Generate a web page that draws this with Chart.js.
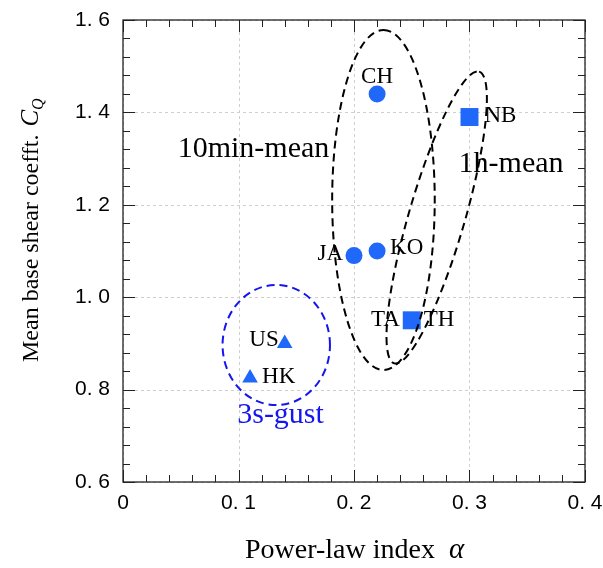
<!DOCTYPE html>
<html>
<head>
<meta charset="utf-8">
<script src="https://cdn.jsdelivr.net/npm/chart.js@4/dist/chart.umd.min.js"></script>
<style>
  html, body { margin: 0; padding: 0; background: #fff; }
</style>
</head>
<body>
<canvas id="chart" width="603" height="568"></canvas>
<script>
// data
const circleNames = ['CH', 'JA', 'KO']
const circleX = [0.22, 0.20, 0.22]
const circleY = [1.44, 1.09, 1.10]

const squareNames = ['NB', 'TA/TH']
const squareX = [0.30, 0.25]
const squareY = [1.39, 0.95]

const triangleNames = ['US', 'HK']
const triangleX = [0.14, 0.11]
const triangleY = [0.90, 0.825]

const xTicks = [0, 0.1, 0.2, 0.3, 0.4]
const xTickLabels = ['0', '0. 1', '0. 2', '0. 3', '0. 4']
const yTicks = [0.6, 0.8, 1.0, 1.2, 1.4, 1.6]
const yTickLabels = ['0. 6', '0. 8', '1. 0', '1. 2', '1. 4', '1. 6']

// group outlines: centre and the two half-axis vectors, in data units
const groupNames = ['3s-gust', '10min-mean', '1h-mean']
const groupCx = [0.1327, 0.2255, 0.2716]
const groupCy = [0.8965, 1.2104, 1.1725]
const groupAx = [0.0465, 0, 0.0367]
const groupAy = [0, 0.368, 0.3158]
const groupBx = [0, 0.0444, 0.0233]
const groupBy = [0.130, 0, -0.0169]
const groupTextX = [0.1364, 0.113, 0.336]
const groupTextY = [0.7277, 1.3035, 1.2716]

const blue = 'rgb(32,104,250)'
const serif = '"Liberation Serif", "Times New Roman", serif'
const tickFont = { family: '"Liberation Sans", Arial, sans-serif', size: 21 }

const toPoints = (xs, ys) => xs.map((x, i) => ({ x: x, y: ys[i] }))

// label placement next to each marker (pixels)
const pointLabels = [
  { text: 'CH', x: circleX[0], y: circleY[0], align: 'center', dx: 0, dy: -11 },
  { text: 'JA', x: circleX[1], y: circleY[1], align: 'right', dx: -11, dy: 4 },
  { text: 'KO', x: circleX[2], y: circleY[2], align: 'left', dx: 13, dy: 3 },
  { text: 'NB', x: squareX[0], y: squareY[0], align: 'left', dx: 15, dy: 5 },
  { text: 'TA', x: squareX[1], y: squareY[1], align: 'right', dx: -12, dy: 6 },
  { text: 'TH', x: squareX[1], y: squareY[1], align: 'left', dx: 12, dy: 6 },
  { text: 'US', x: triangleX[0], y: triangleY[0], align: 'right', dx: -6, dy: 3 },
  { text: 'HK', x: triangleX[1], y: triangleY[1], align: 'left', dx: 12, dy: 5 }
]

const gridPlugin = {
  id: 'grid',
  beforeDatasetsDraw(chart) {
    const { ctx, chartArea: a, scales: { x, y } } = chart
    ctx.save()
    ctx.strokeStyle = '#cfcfcf'
    ctx.lineWidth = 1
    ctx.setLineDash([3, 3])
    xTicks.forEach(v => {
      const px = Math.round(x.getPixelForValue(v)) + 0.5
      ctx.beginPath(); ctx.moveTo(px, a.top); ctx.lineTo(px, a.bottom); ctx.stroke()
    })
    yTicks.forEach(v => {
      const py = Math.round(y.getPixelForValue(v)) + 0.5
      ctx.beginPath(); ctx.moveTo(a.left, py); ctx.lineTo(a.right, py); ctx.stroke()
    })
    ctx.restore()
  }
}

const notesPlugin = {
  id: 'notes',
  afterDatasetsDraw(chart) {
    const { ctx, scales: { x, y } } = chart
    ctx.save()
    ctx.fillStyle = '#000'
    ctx.textBaseline = 'alphabetic'
    ctx.font = '23px ' + serif
    pointLabels.forEach(l => {
      ctx.textAlign = l.align
      ctx.fillText(l.text, x.getPixelForValue(l.x) + l.dx, y.getPixelForValue(l.y) + l.dy)
    })
    ctx.font = '30px ' + serif
    ctx.textAlign = 'center'
    groupNames.forEach((name, i) => {
      ctx.fillStyle = i === 0 ? '#1515f0' : '#000'
      ctx.fillText(name, x.getPixelForValue(groupTextX[i]), y.getPixelForValue(groupTextY[i]))
    })

    // dashed outlines
    groupNames.forEach((name, i) => {
      const cx = x.getPixelForValue(groupCx[i])
      const cy = y.getPixelForValue(groupCy[i])
      const ax = x.getPixelForValue(groupCx[i] + groupAx[i]) - cx
      const ay = y.getPixelForValue(groupCy[i] + groupAy[i]) - cy
      const bx = x.getPixelForValue(groupCx[i] + groupBx[i]) - cx
      const by = y.getPixelForValue(groupCy[i] + groupBy[i]) - cy
      ctx.save()
      ctx.beginPath()
      ctx.transform(ax, ay, bx, by, cx, cy)
      ctx.arc(0, 0, 1, 0, Math.PI * 2)
      ctx.restore()
      ctx.lineWidth = 2
      ctx.strokeStyle = i === 0 ? '#1515f0' : '#000'
      ctx.setLineDash([8, 5])
      ctx.stroke()
    })
    ctx.restore()
  }
}

const framePlugin = {
  id: 'frame',
  afterDraw(chart) {
    const { ctx, chartArea: a, scales: { x, y } } = chart
    ctx.save()
    ctx.strokeStyle = '#222'
    ctx.lineWidth = 1.3
    ctx.strokeRect(a.left, a.top, a.right - a.left, a.bottom - a.top)

    ctx.lineWidth = 1
    ctx.beginPath()
    // x ticks every 0.02, major every 0.1
    for (let k = 0; k <= 20; k++) {
      const px = Math.round(x.getPixelForValue(k * 0.02)) + 0.5
      const len = k % 5 === 0 ? 12 : 7
      ctx.moveTo(px, a.bottom); ctx.lineTo(px, a.bottom - len)
      ctx.moveTo(px, a.top); ctx.lineTo(px, a.top + len)
    }
    // y ticks every 0.04, major every 0.2
    for (let k = 0; k <= 25; k++) {
      const py = Math.round(y.getPixelForValue(0.6 + k * 0.04)) + 0.5
      const len = k % 5 === 0 ? 12 : 7
      ctx.moveTo(a.left, py); ctx.lineTo(a.left + len, py)
      ctx.moveTo(a.right, py); ctx.lineTo(a.right - len, py)
    }
    ctx.stroke()

    // axis titles
    ctx.fillStyle = '#000'
    ctx.textBaseline = 'alphabetic'
    ctx.textAlign = 'left'
    ctx.font = '28px ' + serif
    const xt = 'Power-law index'
    const xw = ctx.measureText(xt).width
    ctx.fillText(xt, 245, 558)
    ctx.font = 'italic 29px ' + serif
    ctx.fillText('α', 245 + xw + 14, 558)

    ctx.translate(38, 362)
    ctx.rotate(-Math.PI / 2)
    ctx.font = '24px ' + serif
    const yt = 'Mean base shear coefft.'
    ctx.fillText(yt, 0, 0)
    const yw = ctx.measureText(yt).width
    ctx.font = 'italic 25px ' + serif
    ctx.fillText('C', yw + 8, 0)
    const cw = ctx.measureText('C').width
    ctx.font = 'italic 16px ' + serif
    ctx.fillText('Q', yw + 8 + cw, 5)
    ctx.restore()
  }
}

const chart = new Chart(document.getElementById('chart').getContext('2d'), {
  type: 'scatter',
  data: {
    datasets: [{
      label: 'circles',
      data: toPoints(circleX, circleY),
      pointStyle: 'circle',
      pointRadius: 8.5,
      backgroundColor: blue,
      borderWidth: 0
    }, {
      label: 'squares',
      data: toPoints(squareX, squareY),
      pointStyle: 'rect',
      pointRadius: 12.7,
      backgroundColor: blue,
      borderWidth: 0
    }, {
      label: 'triangles',
      data: toPoints(triangleX, triangleY),
      pointStyle: 'triangle',
      pointRadius: 9,
      backgroundColor: blue,
      borderWidth: 0
    }]
  },
  options: {
    responsive: false,
    animation: false,
    devicePixelRatio: 1,
    layout: { padding: { left: 0, top: 20, right: 18, bottom: 0 } },
    plugins: {
      legend: { display: false },
      tooltip: { enabled: false }
    },
    scales: {
      x: {
        type: 'linear',
        min: 0,
        max: 0.4,
        afterBuildTicks: s => { s.ticks = xTicks.map(v => ({ value: v })) },
        afterFit: s => { s.height = 86; s.paddingLeft = 0; s.paddingRight = 0 },
        ticks: {
          callback: (v, i) => xTickLabels[i],
          font: tickFont,
          color: '#000',
          padding: 9,
          maxRotation: 0
        },
        grid: { display: false, drawTicks: false },
        border: { display: false }
      },
      y: {
        type: 'linear',
        min: 0.6,
        max: 1.6,
        afterBuildTicks: s => { s.ticks = yTicks.map(v => ({ value: v })) },
        afterFit: s => { s.width = 123; s.paddingTop = 0; s.paddingBottom = 0 },
        ticks: {
          callback: (v, i) => yTickLabels[i],
          font: tickFont,
          color: '#000',
          padding: 13
        },
        grid: { display: false, drawTicks: false },
        border: { display: false }
      }
    }
  },
  plugins: [gridPlugin, notesPlugin, framePlugin]
})
</script>
</body>
</html>
